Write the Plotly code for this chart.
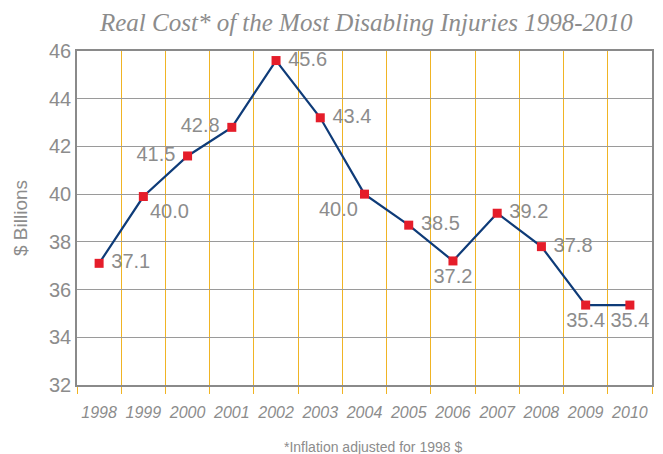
import plotly.graph_objects as go

years = [str(y) for y in range(1998, 2011)]
cost = [37.1, 39.9, 41.6, 42.8, 45.6, 43.2, 40.0, 38.7, 37.2, 39.2, 37.8, 35.35, 35.35]
labels = ["37.1", "40.0", "41.5", "42.8", "45.6", "43.4", "40.0", "38.5", "37.2", "39.2", "37.8", "35.4", "35.4"]
label_pos = ["middle right", "bottom right", "middle left", "middle left", "middle right",
             "middle right", "bottom left", "middle right", "bottom center", "middle right",
             "middle right", "bottom center", "bottom center"]

GRAY = "#8c8c8c"
GOLD = "#f0b424"
PAD = "\u00a0"
idx = list(range(len(years)))

# pad side labels a little so they sit off the markers like the original
texts = []
for t, p in zip(labels, label_pos):
    if p == "middle right":
        texts.append(PAD + t)
    elif p == "middle left":
        texts.append(t + PAD)
    else:
        texts.append(t)

fig = go.Figure(
    go.Scatter(
        x=idx,
        y=cost,
        mode="lines+markers+text",
        line=dict(color="#0e3b78", width=2.2),
        marker=dict(symbol="square", size=9, color="#e51d2a"),
        text=texts,
        textposition=label_pos,
        textfont=dict(family="Liberation Sans, Arial", size=20, color=GRAY),
        cliponaxis=False,
    )
)

# page body adds an 8px offset, so the figure is 8px smaller than the window
fig.update_layout(
    width=655,
    height=446,
    margin=dict(l=69, r=11, t=43, b=69),
    plot_bgcolor="white",
    paper_bgcolor="white",
    showlegend=False,
    title=dict(
        text="Real Cost* of the Most Disabling Injuries 1998-2010",
        x=0.547,
        xanchor="center",
        y=0.968,
        yanchor="middle",
        font=dict(family="Liberation Serif, serif", size=25, color=GRAY, style="italic"),
    ),
    annotations=[
        dict(
            text="*Inflation adjusted for 1998 $",
            x=0.515, xref="paper", xanchor="center",
            y=-0.185, yref="paper", yanchor="middle",
            showarrow=False,
            font=dict(family="Liberation Sans, Arial", size=14, color=GRAY),
        )
    ],
)

fig.update_xaxes(
    range=[-0.5, len(years) - 0.5],
    tickmode="array",
    tickvals=idx,
    ticktext=years,
    tickangle=0,
    showgrid=False,
    ticks="",
    minor=dict(tick0=0.5, dtick=1, showgrid=True, gridcolor=GOLD, gridwidth=1,
               ticks="outside", ticklen=7, tickcolor=GOLD, tickwidth=1),
    showline=True,
    linecolor="#8a8a8a",
    linewidth=1.5,
    mirror=True,
    zeroline=False,
    automargin=False,
    ticklabelstandoff=12,
    tickfont=dict(family="Liberation Sans, Arial", size=16, color=GRAY, style="italic"),
)

fig.update_yaxes(
    range=[32, 46],
    dtick=2,
    showgrid=True,
    gridcolor="#9a9a9a",
    gridwidth=1.4,
    showline=True,
    linecolor="#8a8a8a",
    linewidth=1.5,
    mirror=True,
    zeroline=False,
    ticks="",
    automargin=False,
    tickfont=dict(family="Liberation Sans, Arial", size=20, color=GRAY),
    title=dict(text="$ Billions", standoff=16,
               font=dict(family="Liberation Sans, Arial", size=19, color=GRAY)),
)

fig.write_html("out.html")
